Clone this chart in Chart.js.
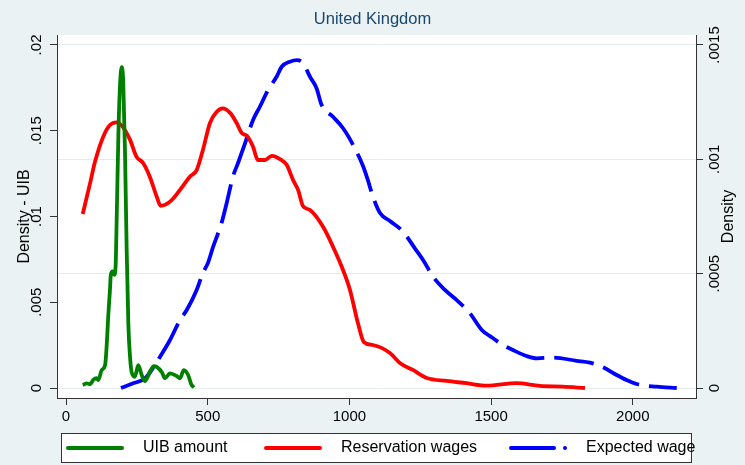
<!DOCTYPE html>
<html>
<head>
<meta charset="utf-8">
<script src="https://cdn.jsdelivr.net/npm/chart.js@4.4.1/dist/chart.umd.min.js"></script>
<style>
  html, body { margin: 0; padding: 0; background: #eaf2f3; }
</style>
</head>
<body>
<canvas id="ukchart" width="745" height="465"></canvas>
<script>
// UIB amount, kernel density (left axis)
var uibX = [59, 73, 85, 96, 108, 114, 126, 138, 144, 149, 155, 158, 165, 170, 175, 179, 185, 191, 197, 202, 208, 214, 220, 226, 232, 243, 255, 267, 279, 296, 310, 320, 338, 349, 367, 391, 402, 416, 431, 443, 452];
var uibY = [0.00018, 0.00027, 0.00022, 0.00047, 0.00057, 0.00047, 0.00105, 0.00134, 0.0026, 0.0042, 0.0057, 0.0066, 0.0068, 0.0066, 0.0071, 0.0100, 0.0149, 0.0178, 0.0187, 0.0178, 0.0139, 0.0081, 0.0037, 0.0018, 0.0009, 0.00066, 0.00134, 0.00076, 0.00041, 0.00095, 0.00128, 0.00124, 0.00093, 0.00057, 0.00086, 0.0007, 0.00057, 0.00105, 0.00076, 0.00018, 0.00004];

// reservation wages (right axis)
var resX = [59, 85, 102, 131, 155, 179, 201, 226, 249, 272, 296, 320, 334, 367, 402, 437, 461, 483, 508, 532, 553, 579, 602, 620, 639, 660, 677, 702, 726, 755, 779, 801, 819, 836, 861, 907, 942, 973, 1002, 1030, 1051, 1083, 1143, 1178, 1224, 1273, 1343, 1414, 1484, 1590, 1672, 1753, 1831];
var resY = [0.000761, 0.000896, 0.000988, 0.001098, 0.00115, 0.001162, 0.001141, 0.001085, 0.001011, 0.000984, 0.000923, 0.000837, 0.000797, 0.000815, 0.000866, 0.000924, 0.000953, 0.001041, 0.001159, 0.001208, 0.001223, 0.001203, 0.001159, 0.001115, 0.001102, 0.001055, 0.000997, 0.000997, 0.001015, 0.001001, 0.000975, 0.00091, 0.000866, 0.000796, 0.000778, 0.000705, 0.000618, 0.00053, 0.000429, 0.000284, 0.000201, 0.000188, 0.000153, 0.000109, 0.000079, 0.000044, 0.000031, 0.000021, 0.00001, 0.000021, 0.000009, 0.000006, 0];

// expected wage (right axis)
var expX = [194, 237, 279, 314, 332, 367, 402, 426, 461, 483, 501, 519, 549, 567, 589, 607, 632, 660, 684, 713, 743, 761, 790, 814, 836, 861, 884, 902, 942, 977, 1013, 1048, 1065, 1083, 1108, 1143, 1189, 1231, 1260, 1295, 1337, 1378, 1425, 1467, 1496, 1542, 1577, 1625, 1661, 1718, 1802, 1849, 1895, 1943, 1978, 2013, 2084, 2155];
var expY = [0, 0.000021, 0.000042, 0.000101, 0.000137, 0.00021, 0.000297, 0.000341, 0.000429, 0.000503, 0.000547, 0.000617, 0.000722, 0.000809, 0.000924, 0.000984, 0.001071, 0.001172, 0.00123, 0.001303, 0.001361, 0.001405, 0.001427, 0.001434, 0.001421, 0.001361, 0.001311, 0.001238, 0.001186, 0.001137, 0.001063, 0.000971, 0.00091, 0.000837, 0.000765, 0.00073, 0.000684, 0.000611, 0.00056, 0.000487, 0.000429, 0.000385, 0.000327, 0.000254, 0.000227, 0.000188, 0.000166, 0.00014, 0.00013, 0.000133, 0.000119, 0.000111, 0.0000905, 0.000057, 0.000035, 0.0000175, 0.0000057, 0];

// ticks
var xTicks = [0, 500, 1000, 1500, 2000];
var xTickLabels = ["0", "500", "1000", "1500", "2000"];
var yTicks = [0, 0.005, 0.01, 0.015, 0.02];
var yTickLabels = ["0", ".005", ".01", ".015", ".02"];
var y2Ticks = [0, 0.0005, 0.001, 0.0015];
var y2TickLabels = ["0", ".0005", ".001", ".0015"];

var FONT = '"Liberation Sans", Arial, sans-serif';
Chart.defaults.font.family = FONT;
Chart.defaults.color = "#000";

function pts(xs, ys) {
  return xs.map(function (x, i) {
    return { x: x, y: ys[i] };
  });
}

function fixTicks(list) {
  return function (scale) {
    scale.ticks = list.map(function (v) {
      return { value: v };
    });
  };
}

// stata style background, boxed legend and right title reading upwards
var stataFrame = {
  id: "stataFrame",
  beforeDraw: function (chart) {
    var c = chart.ctx;
    var a = chart.chartArea;
    c.save();
    c.fillStyle = "#eaf2f3";
    c.fillRect(0, 0, chart.width, chart.height);
    c.fillStyle = "#ffffff";
    c.fillRect(a.left, a.top, a.right - a.left, a.bottom - a.top);
    c.restore();
  },
  afterDraw: function (chart) {
    var c = chart.ctx;
    var a = chart.chartArea;
    c.save();
    c.fillStyle = "#000";
    c.font = "16px " + FONT;
    c.textAlign = "center";
    c.textBaseline = "middle";
    c.translate(729, (a.top + a.bottom) / 2);
    c.rotate(-Math.PI / 2);
    c.fillText("Density", 0, 0);
    c.restore();

    // legend
    c.save();
    c.fillStyle = "#ffffff";
    c.fillRect(61.5, 433.5, 630, 29);
    c.strokeStyle = "#333";
    c.lineWidth = 1;
    c.strokeRect(61.5, 433.5, 630, 29);
    var keyX = [68, 266, 511];
    var ly = 448;
    chart.data.datasets.forEach(function (ds, i) {
      c.strokeStyle = ds.borderColor;
      c.lineWidth = 4;
      c.lineCap = "round";
      c.beginPath();
      if (ds.borderDash) {
        c.moveTo(keyX[i], ly);
        c.lineTo(keyX[i] + 43, ly);
        c.stroke();
        c.beginPath();
        c.arc(keyX[i] + 54, ly, 2, 0, Math.PI * 2);
        c.fillStyle = ds.borderColor;
        c.fill();
      } else {
        c.moveTo(keyX[i], ly);
        c.lineTo(keyX[i] + 54, ly);
        c.stroke();
      }
      c.fillStyle = "#000";
      c.font = "16px " + FONT;
      c.textAlign = "left";
      c.textBaseline = "middle";
      c.fillText(ds.label, keyX[i] + 75, ly);
    });
    c.restore();
  },
};

var ctx = document.getElementById("ukchart").getContext("2d");
var ukChart = new Chart(ctx, {
  type: "line",
  data: {
    datasets: [
      {
        label: "UIB amount",
        data: pts(uibX, uibY),
        yAxisID: "y",
        borderColor: "#008000",
        borderWidth: 3.8,
        pointRadius: 0,
        cubicInterpolationMode: "monotone",
      },
      {
        label: "Reservation wages",
        data: pts(resX, resY),
        yAxisID: "y2",
        borderColor: "#ff0000",
        borderWidth: 3.8,
        pointRadius: 0,
        cubicInterpolationMode: "monotone",
      },
      {
        label: "Expected wage",
        data: pts(expX, expY),
        yAxisID: "y2",
        borderColor: "#0000ff",
        borderWidth: 3.8,
        borderDash: [40, 10],
        pointRadius: 0,
        cubicInterpolationMode: "monotone",
      },
    ],
  },
  options: {
    responsive: false,
    animation: false,
    layout: { padding: { left: 0, right: 0, top: 0, bottom: 37 } },
    plugins: {
      legend: { display: false },
      tooltip: { enabled: false },
      title: {
        display: true,
        text: "United Kingdom",
        color: "#1a476f",
        font: { size: 16.5, weight: "normal" },
        padding: { top: 9.2, bottom: 6 },
      },
    },
    scales: {
      x: {
        type: "linear",
        min: -31.8,
        max: 2223,
        afterBuildTicks: fixTicks(xTicks),
        afterFit: function (scale) {
          scale.height = 30;
        },
        border: { display: true, color: "#333", width: 1 },
        grid: { drawOnChartArea: false, tickLength: 7, tickColor: "#333" },
        ticks: {
          padding: 3,
          font: { size: 15 },
          color: "#000",
          autoSkip: false,
          maxRotation: 0,
          callback: function (value, index) {
            return xTickLabels[index];
          },
        },
      },
      y: {
        type: "linear",
        position: "left",
        min: -0.00058,
        max: 0.02058,
        afterBuildTicks: fixTicks(yTicks),
        afterFit: function (scale) {
          scale.width = 57;
        },
        border: { display: true, color: "#333", width: 1 },
        grid: { drawOnChartArea: false, tickLength: 7, tickColor: "#333" },
        ticks: {
          minRotation: 90,
          maxRotation: 90,
          crossAlign: "center",
          padding: -1.5,
          autoSkip: false,
          color: "#000",
          font: { size: 15 },
          callback: function (value, index) {
            return yTickLabels[index];
          },
        },
        title: {
          display: true,
          text: "Density - UIB",
          color: "#000",
          font: { size: 16 },
          padding: { top: 15, bottom: 0 },
        },
      },
      y2: {
        type: "linear",
        position: "right",
        min: -0.0000437,
        max: 0.0015437,
        afterBuildTicks: fixTicks(y2Ticks),
        afterFit: function (scale) {
          scale.width = 49;
        },
        border: { display: true, color: "#333", width: 1 },
        grid: { color: "#e4eced", tickLength: 7, tickColor: "#333" },
        ticks: {
          minRotation: 90,
          maxRotation: 90,
          crossAlign: "center",
          padding: -6.8,
          autoSkip: false,
          color: "#000",
          font: { size: 15 },
          callback: function (value, index) {
            return y2TickLabels[index];
          },
        },
      },
    },
  },
  plugins: [stataFrame],
});
</script>
</body>
</html>
